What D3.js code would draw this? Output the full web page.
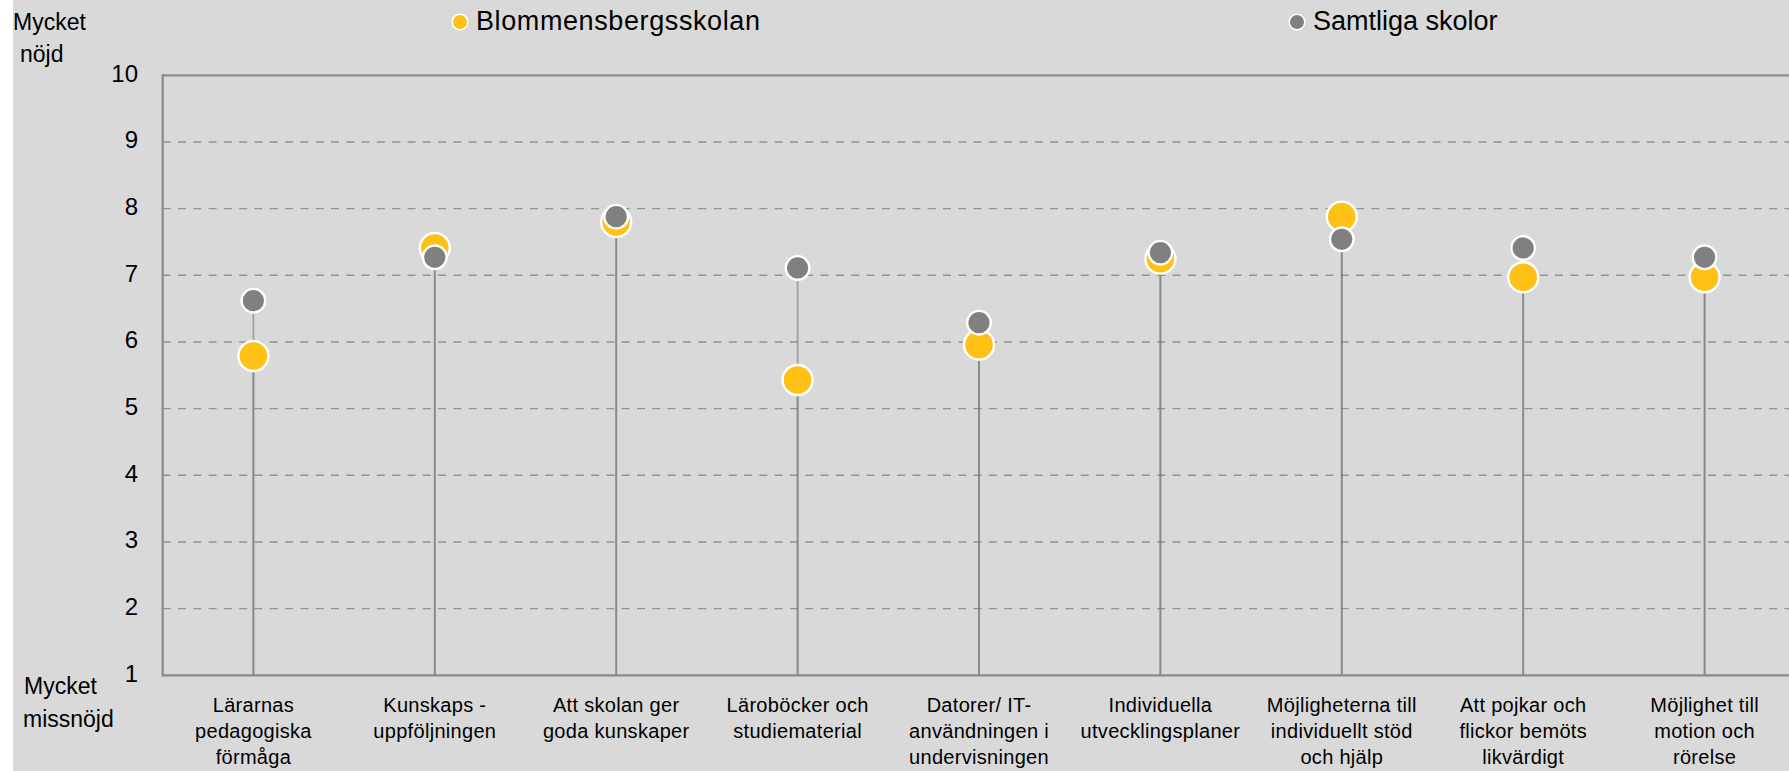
<!DOCTYPE html>
<html>
<head>
<meta charset="utf-8">
<script src="https://cdn.jsdelivr.net/npm/d3@7"></script>
<style>
  html, body { margin: 0; padding: 0; background: #ffffff; }
  svg { display: block; font-family: "Liberation Sans", Arial, sans-serif; }
</style>
</head>
<body>
<svg id="chart" width="1789" height="771"></svg>
<script>
// ---- data ----
const categories = [
  ["Lärarnas", "pedagogiska", "förmåga"],
  ["Kunskaps -", "uppföljningen"],
  ["Att skolan ger", "goda kunskaper"],
  ["Läroböcker och", "studiematerial"],
  ["Datorer/ IT-", "användningen i", "undervisningen"],
  ["Individuella", "utvecklingsplaner"],
  ["Möjligheterna till", "individuellt stöd", "och hjälp"],
  ["Att pojkar och", "flickor bemöts", "likvärdigt"],
  ["Möjlighet till", "motion och", "rörelse"]
];
const schoolValues = [5.79, 7.41, 7.80, 5.43, 5.96, 7.25, 7.88, 6.97, 6.97];
const allValues    = [6.62, 7.27, 7.88, 7.11, 6.29, 7.34, 7.54, 7.41, 7.27];
const seriesNames  = ["Blommensbergsskolan", "Samtliga skolor"];
const yTicks = [1, 2, 3, 4, 5, 6, 7, 8, 9, 10];

// ---- layout ----
const W = 1789, H = 771;
const plot = { left: 162.7, top: 75.3, bottom: 675.3, right: 162.7 + 9 * 181.4 };
const colSchool = "#FFC116", colAll = "#808080";

const svg = d3.select("#chart");
svg.append("rect").attr("x", 0).attr("y", 0).attr("width", W).attr("height", H).attr("fill", "#ffffff");
svg.append("rect").attr("x", 13).attr("y", 0).attr("width", W - 13).attr("height", H).attr("fill", "#d9d9d9");

const x = d3.scaleBand().domain(d3.range(categories.length)).range([plot.left, plot.right]);
const y = d3.scaleLinear().domain([1, 10]).range([plot.bottom, plot.top]);
const cx = i => x(i) + x.bandwidth() / 2;

// gridlines (dashed), top solid
const g = svg.append("g");
g.selectAll("line.grid").data(yTicks.filter(t => t > 1 && t < 10)).join("line")
  .attr("class", "grid")
  .attr("x1", plot.left).attr("x2", W)
  .attr("y1", d => y(d)).attr("y2", d => y(d))
  .attr("stroke", "#939393").attr("stroke-width", 1.4).attr("stroke-dasharray", "8,7.3");
g.append("line").attr("x1", plot.left).attr("x2", W).attr("y1", y(10)).attr("y2", y(10))
  .attr("stroke", "#8f8f8f").attr("stroke-width", 2.2);

// y tick labels
svg.append("g").selectAll("text").data(yTicks).join("text")
  .attr("x", 138).attr("y", d => y(d)).attr("dy", "0.27em")
  .attr("text-anchor", "end").attr("font-size", 24).attr("fill", "#000")
  .text(d => d);

// drop lines (one per series, semi transparent)
[schoolValues, allValues].forEach(vals => {
  svg.append("g").selectAll("line").data(vals).join("line")
    .attr("x1", (d, i) => cx(i)).attr("x2", (d, i) => cx(i))
    .attr("y1", y(1)).attr("y2", d => y(d))
    .attr("stroke", "#7a7a7a").attr("stroke-opacity", 0.6).attr("stroke-width", 1.8);
});

// axes lines
svg.append("line").attr("x1", plot.left).attr("x2", plot.left).attr("y1", plot.top - 1).attr("y2", plot.bottom + 1)
  .attr("stroke", "#8a8a8a").attr("stroke-width", 2.2);
svg.append("line").attr("x1", plot.left - 1).attr("x2", W).attr("y1", plot.bottom).attr("y2", plot.bottom)
  .attr("stroke", "#8a8a8a").attr("stroke-width", 2.2);

// markers
svg.append("g").selectAll("circle").data(schoolValues).join("circle")
  .attr("cx", (d, i) => cx(i)).attr("cy", d => y(d)).attr("r", 15)
  .attr("fill", colSchool).attr("stroke", "#ffffff").attr("stroke-width", 2.4);
svg.append("g").selectAll("circle").data(allValues).join("circle")
  .attr("cx", (d, i) => cx(i)).attr("cy", d => y(d)).attr("r", 11.8)
  .attr("fill", colAll).attr("stroke", "#ffffff").attr("stroke-width", 2.4);

// x category labels
const xl = svg.append("g").selectAll("text").data(categories).join("text")
  .attr("x", (d, i) => cx(i)).attr("y", 711.5)
  .attr("text-anchor", "middle").attr("font-size", 20).attr("letter-spacing", 0.3).attr("fill", "#000");
xl.selectAll("tspan").data(d => d).join("tspan")
  .attr("x", function () { return d3.select(this.parentNode).attr("x"); })
  .attr("dy", (d, j) => j === 0 ? 0 : 26)
  .text(d => d);

// side labels
svg.append("text").attr("x", 13).attr("y", 29.5).attr("font-size", 23).text("Mycket");
svg.append("text").attr("x", 20).attr("y", 62).attr("font-size", 23).text("nöjd");
svg.append("text").attr("x", 24).attr("y", 693.5).attr("font-size", 23).text("Mycket");
svg.append("text").attr("x", 23).attr("y", 727).attr("font-size", 23).text("missnöjd");

// legend
const legendItems = [
  { name: seriesNames[0], color: colSchool, cx: 460, tx: 476, ls: 0.6 },
  { name: seriesNames[1], color: colAll, cx: 1297, tx: 1313, ls: 0 }
];
const lg = svg.append("g").selectAll("g").data(legendItems).join("g");
lg.append("circle").attr("cx", d => d.cx).attr("cy", 22).attr("r", 7.8)
  .attr("fill", d => d.color).attr("stroke", "#ffffff").attr("stroke-width", 1.6);
lg.append("text").attr("x", d => d.tx).attr("y", 30).attr("font-size", 27)
  .attr("letter-spacing", d => d.ls).attr("fill", "#000")
  .text(d => d.name);
</script>
</body>
</html>
